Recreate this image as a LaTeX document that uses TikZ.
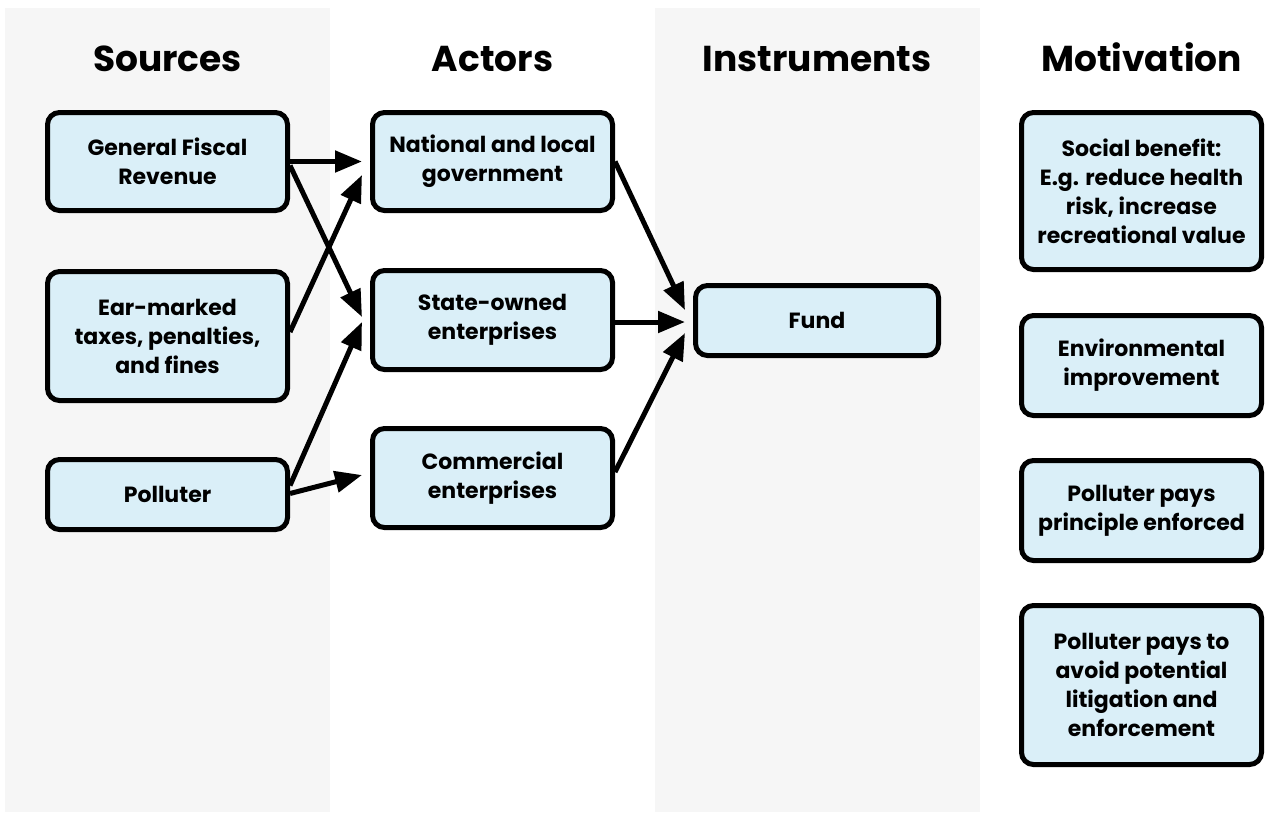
\documentclass[tikz,border=0pt]{standalone}
\usepackage{fontspec}
\setmainfont{Poppins}
\usetikzlibrary{positioning,arrows.meta}
\definecolor{boxblue}{HTML}{DAEFF8}
\definecolor{stripgrey}{HTML}{F6F6F6}
\tikzstyle{arrow} = [black, -{Triangle[length=27pt,width=21pt]}, line width=5pt]

\begin{document}
\begin{tikzpicture}[x=1pt,y=-1pt]

  \useasboundingbox (0,0) rectangle (1266,812);

  % grey column strips
  \fill[stripgrey] (4.5,8) rectangle (329.5,812);
  \fill[stripgrey] (654.5,8) rectangle (980,812);

  \coordinate (SourcesCol) at (167.5,0);
  \coordinate (ActorsCol) at (492.5,0);
  \coordinate (InstrCol) at (817,0);
  \coordinate (MotivCol) at (1141.5,0);

  \tikzstyle{title}=[anchor=base,font=\fontsize{36}{40}\selectfont\bfseries];
  \tikzstyle{fbox}=[draw=black,line width=5pt,
                    shape=rectangle,rounded corners=12pt,
                    inner sep=4pt,minimum width=240pt,
                    align=center,fill=boxblue,
                    font=\fontsize{22}{29}\selectfont\bfseries];

  \node[title] at ([yshift=-71.5pt]SourcesCol) {Sources};
  \node[title] at ([yshift=-71.5pt]ActorsCol) {Actors};
  \node[title] at ([yshift=-71.5pt]InstrCol) {Instruments};
  \node[title] at ([yshift=-71.5pt]MotivCol) {Motivation};

  % sources
  \node[fbox,minimum height=98pt] (RevenueBox) at ([yshift=-161.5pt]SourcesCol)
       {General Fiscal\\Revenue};
  \node[fbox,minimum height=129pt] (TaxesBox) at ([yshift=-336pt]SourcesCol)
       {Ear-marked\\taxes, penalties,\\and fines};
  \node[fbox,minimum height=70pt] (PolluterBox) at ([yshift=-494.5pt]SourcesCol)
       {Polluter};

  % actors
  \node[fbox,minimum height=98pt] (GovBox) at ([yshift=-161.5pt]ActorsCol)
       {National and local\\government};
  \node[fbox,minimum height=99pt] (StateBox) at ([yshift=-320pt]ActorsCol)
       {State-owned\\enterprises};
  \node[fbox,minimum height=99pt] (CommBox) at ([yshift=-478pt]ActorsCol)
       {Commercial\\enterprises};

  % instruments
  \node[fbox,minimum height=70pt,minimum width=243pt] (FundBox) at ([yshift=-320.5pt]InstrCol)
       {Fund};

  % motivation
  \node[fbox,minimum height=157pt] (SocialBox) at ([yshift=-191pt]MotivCol)
       {Social benefit:\\E.g. reduce health\\risk, increase\\recreational value};
  \node[fbox,minimum height=100pt] (EnvBox) at ([yshift=-365.5pt]MotivCol)
       {Environmental\\improvement};
  \node[fbox,minimum height=100pt] (PrincipleBox) at ([yshift=-510.5pt]MotivCol)
       {Polluter pays\\principle enforced};
  \node[fbox,minimum height=159pt] (LitigationBox) at ([yshift=-685pt]MotivCol)
       {Polluter pays to\\avoid potential\\litigation and\\enforcement};

  % flows
  \draw[arrow] (RevenueBox.east) -- ([xshift=-8pt]GovBox.west);
  \draw[arrow] ([yshift=-4pt]RevenueBox.east) -- ([xshift=-8pt,yshift=3pt]StateBox.west);
  \draw[arrow] ([yshift=4pt]TaxesBox.east) -- ([xshift=-8pt,yshift=-13.5pt]GovBox.west);
  \draw[arrow] ([yshift=9pt]PolluterBox.east) -- ([xshift=-8pt,yshift=-2pt]StateBox.west);
  \draw[arrow] ([yshift=1pt]PolluterBox.east) -- ([xshift=-8pt,yshift=3pt]CommBox.west);

  \draw[arrow] (GovBox.east) -- ([xshift=-8pt,yshift=10.5pt]FundBox.west);
  \draw[arrow] ([yshift=-2pt]StateBox.east) -- ([xshift=-8pt,yshift=-1.5pt]FundBox.west);
  \draw[arrow] ([yshift=6pt]CommBox.east) -- ([xshift=-8pt,yshift=-12.5pt]FundBox.west);
\end{tikzpicture}
\end{document}
